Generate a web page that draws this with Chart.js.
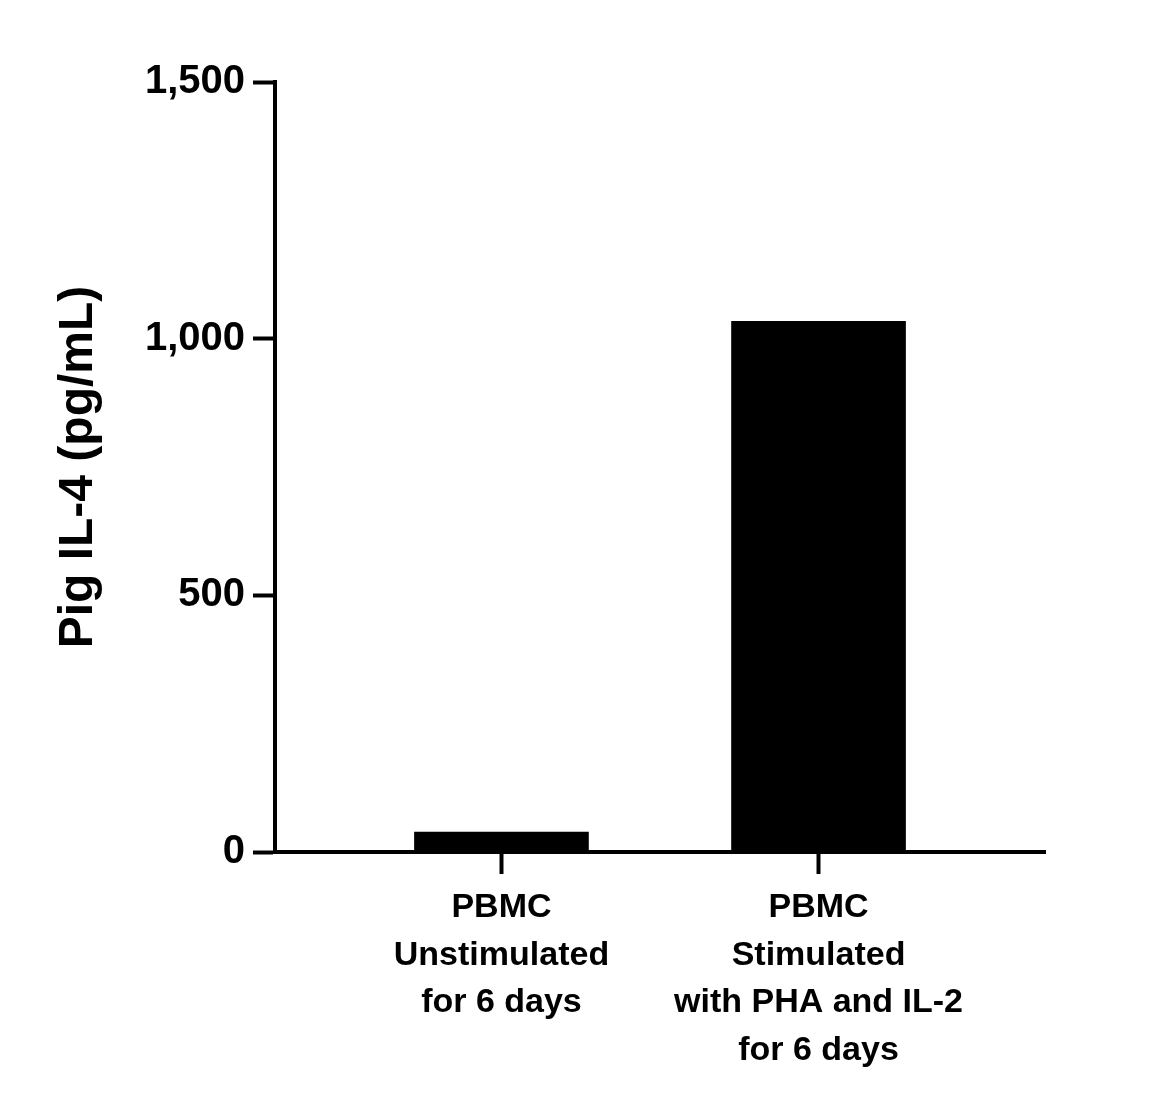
<!DOCTYPE html>
<html><head><style>body{margin:0;background:#fff}</style>
<script src="https://cdn.jsdelivr.net/npm/chart.js@4"></script></head>
<body><div style="width:1176px;height:1110px"><canvas id="c" width="1176" height="1110"></canvas></div>
<script>
const categories=[["PBMC","Unstimulated","for 6 days"],["PBMC","Stimulated","with PHA and IL-2","for 6 days"]];
const values=[39,1034];
const yTicks=[0,500,1000,1500];
const slots=[5,12];
const F="'Liberation Sans', Arial, sans-serif";
const labels=Array.from({length:18},(_,i)=>{const k=slots.indexOf(i);return k>=0?categories[k]:'';});
const data=labels.map((_,i)=>{const k=slots.indexOf(i);return k>=0?values[k]:null;});
new Chart(document.getElementById('c'),{
type:'bar',
data:{labels:labels,datasets:[{data:data,backgroundColor:'#000',barThickness:174}]},
options:{responsive:false,animation:false,
layout:{padding:{top:82,right:131,left:0,bottom:0}},
plugins:{legend:{display:false},tooltip:{enabled:false}},
scales:{
x:{type:'category',offset:false,
 afterFit:s=>{s.height=258;},
 grid:{offset:false,drawOnChartArea:false,drawTicks:true,tickLength:22,tickWidth:4,
  tickColor:c=>slots.includes(c.index)?'#000':'rgba(0,0,0,0)',color:'rgba(0,0,0,0)'},
 border:{color:'#000',width:4},
 ticks:{color:'#000',font:{family:F,size:34,weight:'bold',lineHeight:1.4},maxRotation:0,minRotation:0,autoSkip:false,padding:10}},
y:{min:0,max:1500,
 afterBuildTicks:s=>{s.ticks=yTicks.map(v=>({value:v}));},
 afterFit:s=>{s.width=275;},
 grid:{drawOnChartArea:false,drawTicks:true,tickLength:22,tickWidth:4,color:'#000'},
 border:{color:'#000',width:4},
 ticks:{color:'#000',font:{family:F,size:40,weight:'bold'},padding:8,callback:v=>v.toLocaleString('en-US')},
 title:{display:true,text:'Pig IL-4 (pg/mL)',color:'#000',font:{family:F,size:48,weight:'bold'},padding:{top:50,bottom:10}}}
}}});
</script></body></html>
